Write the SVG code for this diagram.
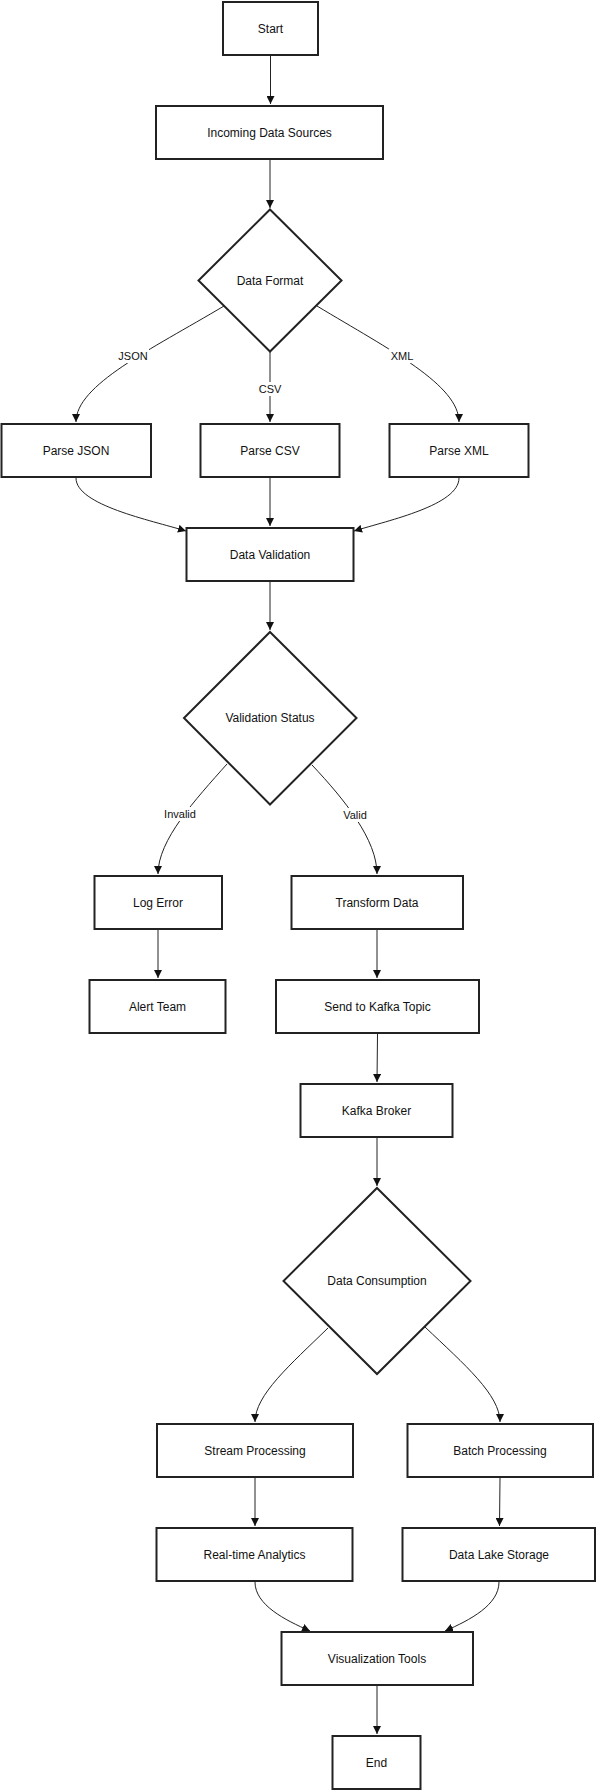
<svg xmlns="http://www.w3.org/2000/svg" width="596" height="1790" viewBox="0 0 596 1790">
<style>
.n rect,.n polygon{fill:#fff;stroke:#222;stroke-width:2}
.n text{font-family:"Liberation Sans",Arial,sans-serif;font-size:12px;fill:#111;text-anchor:middle;dominant-baseline:central}
.e path{fill:none;stroke:#222;stroke-width:1}
.lb rect{fill:#fff}
.lb text{font-family:"Liberation Sans",Arial,sans-serif;font-size:11px;fill:#111;text-anchor:middle;dominant-baseline:central}
</style>
<defs>
<marker id="ah" viewBox="0 0 10 10" refX="10" refY="5" markerWidth="8" markerHeight="8" markerUnits="userSpaceOnUse" orient="auto"><path d="M0,0 L10,5 L0,10 z" fill="#111"/></marker>
</defs>
<rect width="596" height="1790" fill="#fff"/>
<g id="connectors" class="e">
<path d="M270.5,56 L270.5,104" marker-end="url(#ah)"/>
<path d="M270,160 L270,208" marker-end="url(#ah)"/>
<path d="M224,306 C150,350 76,385 76,422" marker-end="url(#ah)"/>
<path d="M270,352 L270,422" marker-end="url(#ah)"/>
<path d="M317,306 C390,350 459,385 459,422" marker-end="url(#ah)"/>
<path d="M76,478 C76,505 150,520 186,531" marker-end="url(#ah)"/>
<path d="M270,478 L270,526" marker-end="url(#ah)"/>
<path d="M459,478 C459,505 390,520 354,531" marker-end="url(#ah)"/>
<path d="M270,582 L270,630" marker-end="url(#ah)"/>
<path d="M227,764 C195,800 158,840 158,874" marker-end="url(#ah)"/>
<path d="M312,765 C345,800 377,840 377,874" marker-end="url(#ah)"/>
<path d="M158,930 L158,978" marker-end="url(#ah)"/>
<path d="M377,930 L377,978" marker-end="url(#ah)"/>
<path d="M377.5,1034 L377,1082" marker-end="url(#ah)"/>
<path d="M377,1138 L377,1186" marker-end="url(#ah)"/>
<path d="M328,1328 C290,1365 255,1395 255,1422" marker-end="url(#ah)"/>
<path d="M425,1327 C465,1365 500,1395 500,1422" marker-end="url(#ah)"/>
<path d="M255,1478 L255,1526" marker-end="url(#ah)"/>
<path d="M500,1478 L499.5,1526" marker-end="url(#ah)"/>
<path d="M255,1582 C255,1605 285,1620 310,1631" marker-end="url(#ah)"/>
<path d="M499,1582 C499,1605 470,1620 445,1631" marker-end="url(#ah)"/>
<path d="M377,1686 L377,1734" marker-end="url(#ah)"/>
</g>
<g id="edge-labels" class="lb">
<rect x="117" y="349" width="32" height="14"/><text x="133" y="356">JSON</text>
<rect x="257" y="382" width="26" height="14"/><text x="270" y="389">CSV</text>
<rect x="389" y="349" width="26" height="14"/><text x="402" y="356">XML</text>
<rect x="163" y="807" width="35" height="14"/><text x="180" y="814">Invalid</text>
<rect x="341" y="808" width="28" height="14"/><text x="355" y="815">Valid</text>
</g>
<g id="start" class="n"><rect x="223" y="2" width="95" height="53"/><text x="270.5" y="28.5">Start</text></g>
<g id="incoming" class="n"><rect x="156" y="106" width="227" height="53"/><text x="269.5" y="132.5">Incoming Data Sources</text></g>
<g id="data-format" class="n"><polygon points="270,209.5 341.5,280.5 270,351.5 198.5,280.5"/><text x="270" y="280.5">Data Format</text></g>
<g id="parse-json" class="n"><rect x="1.5" y="424" width="149.5" height="53"/><text x="76" y="450.5">Parse JSON</text></g>
<g id="parse-csv" class="n"><rect x="200.5" y="424" width="139" height="53"/><text x="270" y="450.5">Parse CSV</text></g>
<g id="parse-xml" class="n"><rect x="389.5" y="424" width="139" height="53"/><text x="459" y="450.5">Parse XML</text></g>
<g id="data-validation" class="n"><rect x="186.5" y="528" width="167" height="53"/><text x="270" y="554.5">Data Validation</text></g>
<g id="validation-status" class="n"><polygon points="270,632 356.5,718 270,804.5 184,718"/><text x="270" y="718">Validation Status</text></g>
<g id="log-error" class="n"><rect x="94.5" y="876" width="127.5" height="53"/><text x="158" y="902.5">Log Error</text></g>
<g id="transform" class="n"><rect x="291.5" y="876" width="171.5" height="53"/><text x="377" y="902.5">Transform Data</text></g>
<g id="alert-team" class="n"><rect x="89.5" y="980" width="136" height="53"/><text x="157.5" y="1006.5">Alert Team</text></g>
<g id="send-kafka" class="n"><rect x="276" y="980" width="203" height="53"/><text x="377.5" y="1006.5">Send to Kafka Topic</text></g>
<g id="kafka-broker" class="n"><rect x="300.5" y="1084" width="152" height="53"/><text x="376.5" y="1110.5">Kafka Broker</text></g>
<g id="data-consumption" class="n"><polygon points="377,1188 470.5,1281 377,1374 283.5,1281"/><text x="377" y="1281">Data Consumption</text></g>
<g id="stream" class="n"><rect x="157" y="1424" width="196" height="53"/><text x="255" y="1450.5">Stream Processing</text></g>
<g id="batch" class="n"><rect x="407.5" y="1424" width="185.5" height="53"/><text x="500" y="1450.5">Batch Processing</text></g>
<g id="realtime" class="n"><rect x="156.5" y="1528" width="196" height="53"/><text x="254.5" y="1554.5">Real-time Analytics</text></g>
<g id="datalake" class="n"><rect x="402.5" y="1528" width="192.5" height="53"/><text x="499" y="1554.5">Data Lake Storage</text></g>
<g id="visualization" class="n"><rect x="281.5" y="1632" width="191.5" height="53"/><text x="377" y="1658.5">Visualization Tools</text></g>
<g id="end" class="n"><rect x="332.5" y="1736" width="88" height="53"/><text x="376.5" y="1762.5">End</text></g>
</svg>
